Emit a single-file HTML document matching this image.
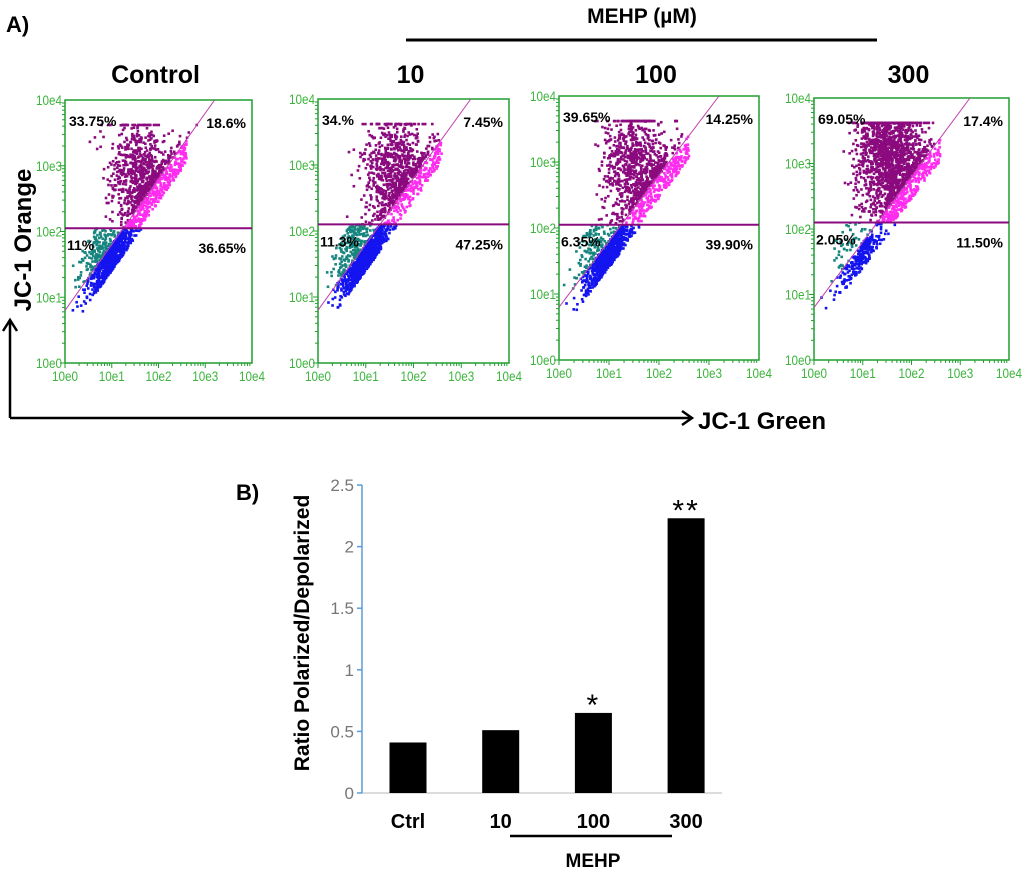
<!DOCTYPE html>
<html><head><meta charset="utf-8">
<style>
body{margin:0;background:#fff;}
svg{display:block;font-family:"Liberation Sans",sans-serif;}
.b{font-weight:bold;}
</style></head>
<body>
<svg id="fig" width="1024" height="870" viewBox="0 0 1024 870" xmlns="http://www.w3.org/2000/svg">
<text x="6" y="32" class="b" font-size="22">A)</text>
<text x="642" y="23" class="b" font-size="21" text-anchor="middle">MEHP (µM)</text>
<line x1="406" y1="40" x2="877" y2="40" stroke="#000" stroke-width="3"/>
<g id="scatters"></g>
<text transform="translate(31,240) rotate(-90)" class="b" font-size="24" text-anchor="middle">JC-1 Orange</text>
<path d="M10,418 L10,322 M3,331 L10,320 L17,331" fill="none" stroke="#000" stroke-width="2.5"/>
<path d="M10,418 L690,418 M682,411 L692,418 L682,425" fill="none" stroke="#000" stroke-width="2.5"/>
<text x="698" y="429" class="b" font-size="24">JC-1 Green</text>
<g id="bars"></g>
</svg>
<script>
const NS="http://www.w3.org/2000/svg";
function mk(p,tag,at){const e=document.createElementNS(NS,tag);for(const k in at)e.setAttribute(k,at[k]);p.appendChild(e);return e;}

// ---- scatter panel data ----
const panelTitles=["Control","10","100","300"];
const quadUL=["33.75%","34.%","39.65%","69.05%"];
const quadUR=["18.6%","7.45%","14.25%","17.4%"];
const quadLL=["11%","11.3%","6.35%","2.05%"];
const quadLR=["36.65%","47.25%","39.90%","11.50%"];
const gateDecade=[2.05,2.1,2.05,2.1];
const purpleCount=[750,800,850,1600];
const magentaCount=[400,250,300,350];
const blueCount=[700,900,700,250];
const tealCount=[220,250,160,60];
const purpleCenterX=[1.6,1.6,1.55,1.55];
const purpleCenterY=[2.8,2.85,2.9,3.1];

const boxes=[[65,100,252,363],[318,99,509,363],[559,96,759,360],[814,98,1009,360]];
const titleY=83;

let seed=12345;
function rnd(){seed=(seed*1103515245+12345)%2147483648;return seed/2147483648;}
function gauss(){let u=rnd()||1e-6,v=rnd();return Math.sqrt(-2*Math.log(u))*Math.cos(2*Math.PI*v);}

const sc=document.getElementById('scatters');
const green="#1f9e2f", tickG="#3cb43c";
boxes.forEach((b,i)=>{
  const [x0,y0,x1,y1]=b;
  const g=mk(sc,'g',{});
  
  
  const xs=d=>x0+(x1-x0)*d/4, ys=d=>y1-(y1-y0)*d/4;
  const t=mk(g,'text',{x:(x0+x1)/2-3,y:titleY,'font-size':25,'font-weight':'bold','text-anchor':'middle'});
  t.textContent=panelTitles[i];
  
  
  const r=mk(g,'rect',{x:x0,y:y0,width:x1-x0,height:y1-y0,fill:'none',stroke:green,'stroke-width':1.5});
  
  
  for(let d=0;d<=4;d++){
    const lx=mk(g,'text',{x:xs(d),y:y1+18,'font-size':14,fill:tickG,'text-anchor':'middle',textLength:26,lengthAdjust:'spacingAndGlyphs'});
    lx.textContent='10e'+d;
    
    
    const ly=mk(g,'text',{x:x0-3,y:ys(d)+5,'font-size':14,fill:tickG,'text-anchor':'end',textLength:26,lengthAdjust:'spacingAndGlyphs'});
    ly.textContent='10e'+d;
    
    
    if(d<4)for(let m=1;m<=9;m++){
      const f=d+Math.log10(m), L=m==1?5:3;
      mk(g,'line',{x1:xs(f),y1:y1,x2:xs(f),y2:y1+L,stroke:green,'stroke-width':1});
      mk(g,'line',{x1:x0,y1:ys(f),x2:x0-L,y2:ys(f),stroke:green,'stroke-width':1});
    }
  }
  const gate=gateDecade[i];
  const pts=[];
  const clip=(x,y)=>x>0.05&&x<3.9&&y>0.05&&y<3.65;
  for(let k=0;k<purpleCount[i];k++){let x=purpleCenterX[i]+gauss()*0.32, y=Math.min(purpleCenterY[i]+gauss()*0.45,3.62); if(y<gate)y=gate+rnd()*0.3; if(y<x+0.8)y=x+0.8+rnd()*0.2; if(clip(x,y))pts.push([x,y,'#8b0a7e']);}
  for(let k=0;k<magentaCount[i];k++){let x=1.2+rnd()*1.4, y=x+0.8-rnd()*0.35; if(y>=gate&&clip(x,y))pts.push([x,y,'#ff2cf0']);}
  for(let k=0;k<blueCount[i];k++){let x=1.0+gauss()*0.25, y=x+0.8-rnd()*0.4; if(y>=gate)continue; if(clip(x,y))pts.push([x,y,'#1414f0']);}
  for(let k=0;k<tealCount[i];k++){let x=0.75+gauss()*0.22, y=x+0.8+rnd()*0.6; if(y>=gate)continue; if(clip(x,y))pts.push([x,y,'#17857f']);}
  pts.forEach(p=>{
    const e=mk(g,'rect',{x:xs(p[0])-1.3,y:ys(p[1])-1.3,width:2.6,height:2.6,fill:p[2]});
    
    
  });
  const dl=mk(g,'line',{x1:xs(0),y1:ys(0.8),x2:xs(3.2),y2:ys(4),stroke:'#c040b0','stroke-width':1});
  
  
  const gl=mk(g,'line',{x1:x0,y1:ys(gate),x2:x1,y2:ys(gate),stroke:'#8b0a7e','stroke-width':2});
  
  
  const q=[[quadUL[i],x0+4,y0+26,'start'],[quadUR[i],x1-6,y0+28,'end'],[quadLL[i],x0+2,ys(gate)+22,'start'],[quadLR[i],x1-6,ys(gate)+25,'end']];
  const qn=['quadrant-ul','quadrant-ur','quadrant-ll','quadrant-lr'];
  q.forEach((qq,j)=>{
    const e=mk(g,'text',{x:qq[1],y:qq[2],'font-size':14,'font-weight':'bold','text-anchor':qq[3]});
    e.textContent=qq[0];
    
    
  });
});

// ---- bar chart data ----
const categories=["Ctrl","10","100","300"];
const ratios=[0.41,0.51,0.65,2.23];
const stars=["","","*","**"];
const yTicks=[0,0.5,1,1.5,2,2.5];
const yTickLabels=["0","0.5","1","1.5","2","2.5"];

const bg=document.getElementById('bars');
const ax={x0:362,y0:793,ppu:123.2,first:408,step:92.7,bw:37};
const by=v=>ax.y0-v*ax.ppu, bx=i=>ax.first+i*ax.step;
let e=mk(bg,'text',{x:236,y:500,'font-size':22,'font-weight':'bold'});e.textContent='B)';


e=mk(bg,'text',{transform:'translate(309,633) rotate(-90)','font-size':21,'font-weight':'bold','text-anchor':'middle'});e.textContent='Ratio Polarized/Depolarized';


mk(bg,'line',{x1:ax.x0,y1:ax.y0,x2:722,y2:ax.y0,stroke:'#d0d0d0','stroke-width':1.5});
e=mk(bg,'line',{x1:ax.x0,y1:by(2.5),x2:ax.x0,y2:ax.y0,stroke:'#5b9bd5','stroke-width':1.5});


yTicks.forEach((v,k)=>{
  mk(bg,'line',{x1:ax.x0-5,y1:by(v),x2:ax.x0,y2:by(v),stroke:'#5b9bd5','stroke-width':1.5});
  const t=mk(bg,'text',{x:ax.x0-8,y:by(v)+6,'font-size':17,fill:'#777','text-anchor':'end'});
  t.textContent=yTickLabels[k];
  
  
});
categories.forEach((c,i)=>{
  const r=mk(bg,'rect',{x:bx(i)-ax.bw/2,y:by(ratios[i]),width:ax.bw,height:ratios[i]*ax.ppu,fill:'#000'});
  
  
  const t=mk(bg,'text',{x:bx(i),y:828,'font-size':20,'font-weight':'bold','text-anchor':'middle'});
  t.textContent=c;
  
  
  if(stars[i]){
    const s=mk(bg,'text',{x:bx(i),y:by(ratios[i])+2,'font-size':30,'text-anchor':'middle','letter-spacing':2});
    s.textContent=stars[i];
    
    
  }
});
e=mk(bg,'line',{x1:510,y1:836,x2:672,y2:836,stroke:'#000','stroke-width':2.5});


e=mk(bg,'text',{x:593,y:867,'font-size':19,'font-weight':'bold','text-anchor':'middle'});e.textContent='MEHP';


</script>
</body></html>
